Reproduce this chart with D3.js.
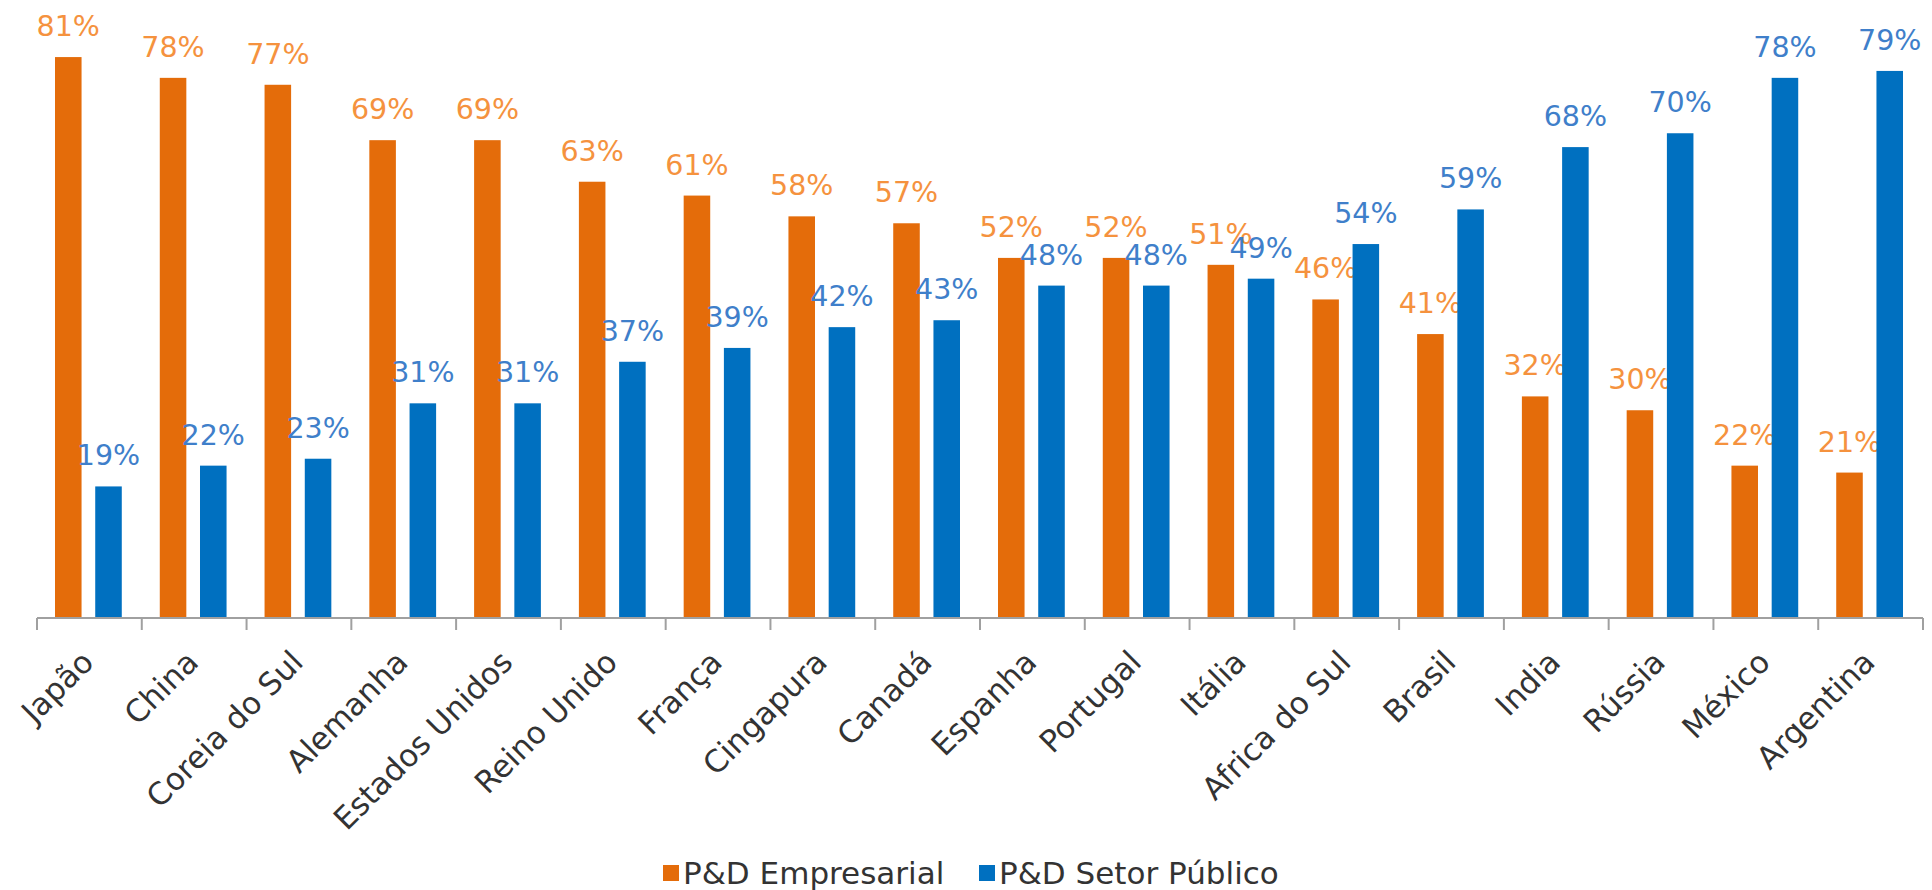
<!DOCTYPE html>
<html><head><meta charset="utf-8">
<script src="https://cdn.jsdelivr.net/npm/d3@7"></script>
<style>body{margin:0;background:#fff;} svg{display:block;}</style>
</head><body>
<svg id="c" width="1932" height="890"></svg>
<script>
const categories = ["Japão","China","Coreia do Sul","Alemanha","Estados Unidos","Reino Unido","França","Cingapura","Canadá","Espanha","Portugal","Itália","Africa do Sul","Brasil","India","Rússia","México","Argentina"];
const empresarial = [81,78,77,69,69,63,61,58,57,52,52,51,46,41,32,30,22,21];
const publico = [19,22,23,31,31,37,39,42,43,48,48,49,54,59,68,70,78,79];
const seriesNames = ["P&D Empresarial","P&D Setor Público"];
const barColors = ["#E46C0A","#0070C0"];
const labelColors = ["#F5923E","#3F7FCA"];
const FONT = "'DejaVu Sans', sans-serif";

const svg = d3.select("#c");
const x0 = 37, x1 = 1923, base = 618;
const x = d3.scaleBand().domain(categories).range([x0, x1]).paddingInner(0).paddingOuter(0);
const y = d3.scaleLinear().domain([0, 100]).range([base, base - 692.5]);
const sub = d3.scaleBand().domain([0,1]).range([18, x.bandwidth() - 20]).paddingInner(0.34);

const series = [empresarial, publico];
series.forEach((vals, si) => {
  const g = svg.append("g");
  g.selectAll("rect").data(vals).join("rect")
    .attr("x", (d,i) => x(categories[i]) + sub(si))
    .attr("y", d => y(d))
    .attr("width", sub.bandwidth())
    .attr("height", d => base - y(d))
    .attr("fill", barColors[si]);
  g.selectAll("text").data(vals).join("text")
    .attr("x", (d,i) => x(categories[i]) + sub(si) + sub.bandwidth()/2)
    .attr("y", d => y(d) - 21)
    .attr("text-anchor", "middle")
    .attr("font-family", FONT)
    .attr("font-size", 28.5)
    .attr("fill", labelColors[si])
    .text(d => d + "%");
});

// axis
const ax = svg.append("g").attr("transform", `translate(0,${base})`)
  .call(d3.axisBottom(x).tickSize(0).tickFormat(""));
ax.select(".domain").attr("stroke", "#A0A0A0").attr("stroke-width", 2).attr("d", `M${x0},0H${x1}`);
const tickPos = categories.map(c => x(c)).concat([x1]);
svg.append("g").selectAll("line").data(tickPos).join("line")
  .attr("x1", d => d).attr("x2", d => d)
  .attr("y1", base).attr("y2", base + 12)
  .attr("stroke", "#A0A0A0").attr("stroke-width", 2);

svg.append("g").selectAll("text").data(categories).join("text")
  .attr("transform", d => `translate(${x(d) + x.bandwidth()/2 + 6},${base + 46}) rotate(-45)`)
  .attr("text-anchor", "end")
  .attr("font-family", FONT)
  .attr("font-size", 31)
  .attr("fill", "#333")
  .text(d => d);

// legend
const legX = [663, 979];
const lg = svg.append("g");
seriesNames.forEach((n, i) => {
  lg.append("rect").attr("x", legX[i]).attr("y", 865).attr("width", 16).attr("height", 16).attr("fill", barColors[i]);
  lg.append("text").attr("x", legX[i] + 20).attr("y", 884)
    .attr("font-family", FONT).attr("font-size", 31).attr("fill", "#333").text(n);
});
</script>
</body></html>
